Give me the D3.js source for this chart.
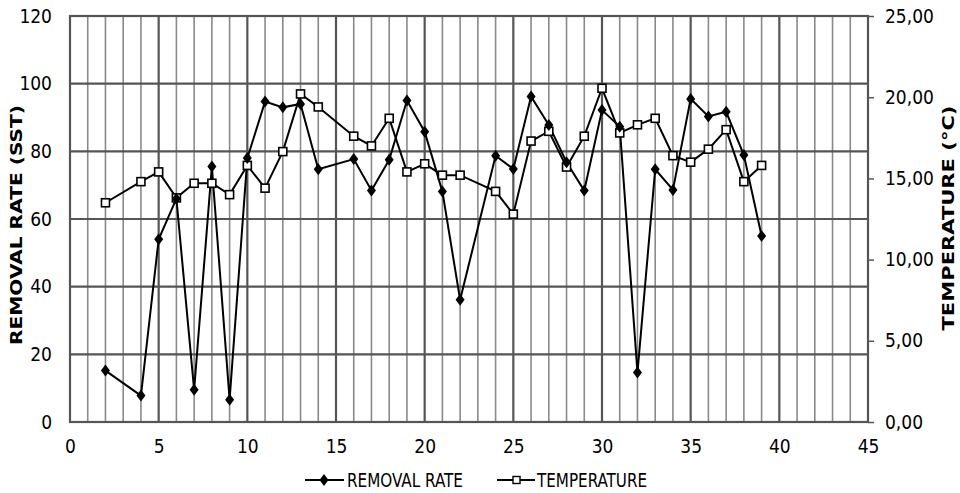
<!doctype html>
<html>
<head>
<meta charset="utf-8">
<title>removal rate / temperature</title>
<style>
  body { margin:0; background:#fff; }
  svg { display:block; }
  text { font-family:"DejaVu Sans Condensed","Liberation Sans Narrow",sans-serif; fill:#000; }
  .tick text { font-size:19px; }
  .axtitle { font-family:"DejaVu Sans","Liberation Sans",sans-serif; font-size:16px; font-weight:bold; }
  .leg { font-size:19px; }
</style>
<script src="https://cdn.jsdelivr.net/npm/d3@7"></script>
</head>
<body>
<svg id="chart" width="960" height="493"></svg>
<script>
// x positions (days)
var days = [2,4,5,6,7,8,9,10,11,12,13,14,16,17,18,19,20,21,22,24,25,26,27,28,29,30,31,32,33,34,35,36,37,38,39]
// removal rate (left axis)
var removal = [15.2,7.8,54,66,9.5,75.5,6.6,78,94.7,93,94,74.7,77.7,68.4,77.5,95,85.8,68.1,36.1,78.7,74.8,96.2,87.8,76.8,68.4,92.2,87.3,14.6,74.7,68.6,95.5,90.3,91.7,78.9,55]
// temperature (right axis, °C)
var temperature = [13.5,14.8,15.4,13.8,14.7,14.7,14.0,15.8,14.4,16.65,20.2,19.4,17.6,17.0,18.7,15.4,15.9,15.2,15.2,14.2,12.8,17.3,17.9,15.7,17.6,20.55,17.8,18.3,18.7,16.4,16.0,16.8,18.0,14.8,15.8]

var xTicks = [0,5,10,15,20,25,30,35,40,45]
var leftTicks = [0,20,40,60,80,100,120]
var rightTicks = [0,5,10,15,20,25]
var seriesNames = ["REMOVAL RATE", "TEMPERATURE"]

var svg = d3.select("#chart")
var L = 70, R = 868, T = 16, B = 422

var x = d3.scaleLinear().domain([0,45]).range([L,R])
var yL = d3.scaleLinear().domain([0,120]).range([B,T])
var yR = d3.scaleLinear().domain([0,25]).range([B,T])

// grid: minor verticals every 1, major every 5
var g = svg.append("g")
g.selectAll(".minor").data(d3.range(1,45).filter(function(d){ return d%5 != 0 }))
  .enter().append("line")
  .attr("x1", function(d){ return x(d) }).attr("x2", function(d){ return x(d) })
  .attr("y1", T).attr("y2", B)
  .style("stroke","#8a8a8a").style("stroke-width",1.6)
g.selectAll(".major").data(xTicks.slice(1,-1))
  .enter().append("line")
  .attr("x1", function(d){ return x(d) }).attr("x2", function(d){ return x(d) })
  .attr("y1", T).attr("y2", B)
  .style("stroke","#555").style("stroke-width",2.2)
g.selectAll(".hgrid").data(leftTicks.slice(1,-1))
  .enter().append("line")
  .attr("x1", L).attr("x2", R)
  .attr("y1", function(d){ return yL(d) }).attr("y2", function(d){ return yL(d) })
  .style("stroke","#555").style("stroke-width",2.2)
g.append("rect").attr("x",L).attr("y",T).attr("width",R-L).attr("height",B-T)
  .style("fill","none").style("stroke","#555").style("stroke-width",2.2)

// axes
var ax = svg.append("g").attr("transform","translate(0,"+B+")")
  .call(d3.axisBottom(x).tickValues(xTicks).tickSize(0).tickPadding(18))
var ay = svg.append("g").attr("transform","translate("+L+",0)")
  .call(d3.axisLeft(yL).tickValues(leftTicks).tickSize(0).tickPadding(18))
var ay2 = svg.append("g").attr("transform","translate("+R+",0)")
  .call(d3.axisRight(yR).tickValues(rightTicks).tickSize(6).tickPadding(11)
        .tickFormat(function(d){ return d3.format(".2f")(d).replace(".", ",") }))
svg.selectAll(".domain").remove()
ay2.selectAll(".tick line").style("stroke","#555").style("stroke-width",1.5)

// axis titles
svg.append("text").attr("class","axtitle")
  .attr("transform","translate(22,225) rotate(-90)")
  .attr("text-anchor","middle").attr("textLength",240).attr("lengthAdjust","spacingAndGlyphs")
  .text("REMOVAL RATE  (SST)")
svg.append("text").attr("class","axtitle")
  .attr("transform","translate(954,218) rotate(-90)")
  .attr("text-anchor","middle").attr("textLength",225).attr("lengthAdjust","spacingAndGlyphs")
  .text("TEMPERATURE  (°C)")

// lines
var lineL = d3.line().x(function(d,i){ return x(days[i]) }).y(function(d){ return yL(d) })
var lineR = d3.line().x(function(d,i){ return x(days[i]) }).y(function(d){ return yR(d) })
svg.append("path").attr("d", lineR(temperature))
  .style("fill","none").style("stroke","#000").style("stroke-width",2)
svg.append("path").attr("d", lineL(removal))
  .style("fill","none").style("stroke","#000").style("stroke-width",2)

var diamond = "M0,-6L4.5,0L0,6L-4.5,0Z"
svg.selectAll(".sq").data(temperature).enter().append("rect")
  .attr("x", function(d,i){ return x(days[i])-4 }).attr("y", function(d){ return yR(d)-4 })
  .attr("width",8).attr("height",8)
  .style("fill","#fff").style("stroke","#000").style("stroke-width",1.6)
svg.selectAll(".dm").data(removal).enter().append("path")
  .attr("transform", function(d,i){ return "translate("+x(days[i])+","+yL(d)+")" })
  .attr("d", diamond).style("fill","#000")

// legend
var leg = svg.append("g")
leg.append("line").attr("x1",305).attr("x2",344).attr("y1",480).attr("y2",480)
  .style("stroke","#000").style("stroke-width",2)
leg.append("path").attr("transform","translate(324,480)").attr("d",diamond).style("fill","#000")
leg.append("text").attr("class","leg").attr("x",347).attr("y",487)
  .attr("textLength",116).attr("lengthAdjust","spacingAndGlyphs").text(seriesNames[0])
leg.append("line").attr("x1",497).attr("x2",535).attr("y1",480).attr("y2",480)
  .style("stroke","#000").style("stroke-width",2)
leg.append("rect").attr("x",513).attr("y",476.5).attr("width",7).attr("height",7)
  .style("fill","#fff").style("stroke","#000").style("stroke-width",1.4)
leg.append("text").attr("class","leg").attr("x",537).attr("y",487)
  .attr("textLength",110).attr("lengthAdjust","spacingAndGlyphs").text(seriesNames[1])
</script>
</body>
</html>
